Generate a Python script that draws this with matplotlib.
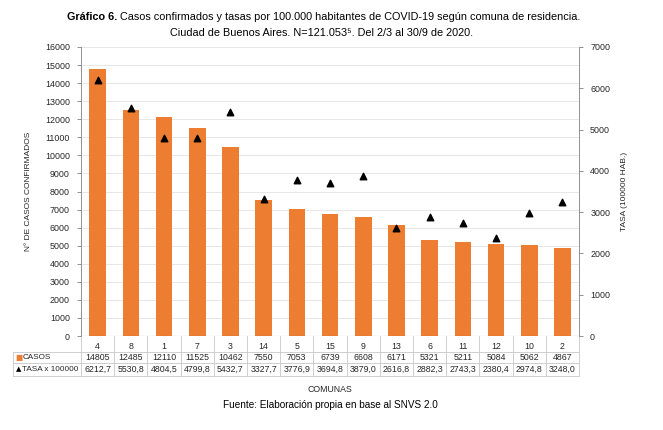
import matplotlib
matplotlib.use('Agg')
import matplotlib.pyplot as plt
from matplotlib.transforms import blended_transform_factory
import numpy as np

plt.rcParams['font.family'] = ['Liberation Sans', 'DejaVu Sans']

comunas = ['4', '8', '1', '7', '3', '14', '5', '15', '9', '13', '6', '11', '12', '10', '2']
casos = [14805, 12485, 12110, 11525, 10462, 7550, 7053, 6739, 6608, 6171, 5321, 5211, 5084, 5062, 4867]
tasa = [6212.7, 5530.8, 4804.5, 4799.8, 5432.7, 3327.7, 3776.9, 3694.8, 3879.0, 2616.8,
        2882.3, 2743.3, 2380.4, 2974.8, 3248.0]

orange = '#ED7D31'
grid_c = '#e3e3e3'
line_c = '#c8c8c8'
txt_c = '#262626'

fig = plt.figure(figsize=(6.63, 4.30), dpi=100)
ax = fig.add_axes([81 / 663, 1 - 336 / 430, 498 / 663, 289 / 430])
ax2 = ax.twinx()

x = np.arange(len(comunas))
ax.bar(x, casos, width=0.5, color=orange, zorder=3)
ax2.scatter(x, tasa, marker='^', s=22, color='black', zorder=4)

ax.set_xlim(-0.5, len(comunas) - 0.5)
ax.set_ylim(0, 16000)
ax.set_yticks(np.arange(0, 16001, 1000))
ax2.set_ylim(0, 7000)
ax2.set_yticks(np.arange(0, 7001, 1000))
ax.yaxis.grid(True, color=grid_c, lw=0.6, zorder=0)
ax.set_axisbelow(True)
ax.set_xticks([])

for a in (ax, ax2):
    a.tick_params(axis='y', labelsize=6.4, colors=txt_c, length=3, width=0.6, color='#808080', pad=5)
    for s in a.spines.values():
        s.set_visible(False)
ax.spines['left'].set_visible(True)
ax.spines['left'].set_color('#808080')
ax.spines['left'].set_linewidth(0.6)
ax2.spines['right'].set_visible(True)
ax2.spines['right'].set_color('#808080')
ax2.spines['right'].set_linewidth(0.6)
ax.axhline(0, color='#808080', lw=0.8, zorder=5)

ax.set_ylabel('N° DE CASOS CONFIRMADOS', fontsize=6, color=txt_c)
ax.yaxis.set_label_coords((32 - 81) / 498, 0.5)
ax2.set_ylabel('TASA (100000 HAB.)', fontsize=6, color=txt_c)
ax2.yaxis.set_label_coords((621 - 81) / 498, 0.5)

# data table under the axis
tr = blended_transform_factory(ax.transData, ax.transAxes)
row_y = [-0.038, -0.074, -0.115]
lines_y = [0.0, -0.054, -0.095, -0.139]
lab_left = (13 - 81) / 498
for xi in np.arange(len(comunas) + 1) - 0.5:
    ax.plot([xi, xi], [0, lines_y[-1]], transform=tr, color=line_c, lw=0.6, clip_on=False)
ax.plot([lab_left, lab_left], [lines_y[1], lines_y[-1]], transform=ax.transAxes,
        color=line_c, lw=0.6, clip_on=False)
for ly in lines_y[1:]:
    ax.plot([lab_left, 1], [ly, ly], transform=ax.transAxes, color=line_c, lw=0.6, clip_on=False)

fs_t = 6.3
for i in range(len(comunas)):
    ax.text(x[i], row_y[0], comunas[i], transform=tr, ha='center', va='center', fontsize=fs_t, color=txt_c)
    ax.text(x[i], row_y[1], str(casos[i]), transform=tr, ha='center', va='center', fontsize=fs_t, color=txt_c)
    ax.text(x[i], row_y[2], f'{tasa[i]:.1f}'.replace('.', ','), transform=tr, ha='center',
            va='center', fontsize=fs_t, color=txt_c)

ax.text(lab_left + 0.005, row_y[1], '■', transform=ax.transAxes, ha='left', va='center',
        fontsize=5.5, color=orange, family='DejaVu Sans')
ax.text(lab_left + 0.019, row_y[1], 'CASOS', transform=ax.transAxes, ha='left', va='center',
        fontsize=5.9, color=txt_c)
ax.text(lab_left + 0.005, row_y[2], '▲', transform=ax.transAxes, ha='left', va='center',
        fontsize=5, color='black', family='DejaVu Sans')
ax.text(lab_left + 0.019, row_y[2], 'TASA x 100000', transform=ax.transAxes, ha='left', va='center',
        fontsize=5.9, color=txt_c)

fig.text(330 / 663, 1 - 389 / 430, 'COMUNAS', ha='center', va='center', fontsize=6.3, color=txt_c)
fig.text(330 / 663, 1 - 405 / 430, 'Fuente: Elaboración propia en base al SNVS 2.0',
         ha='center', va='center', fontsize=7.2, color='black')

# title: bold prefix + normal text on first line
fig.canvas.draw()
r = fig.canvas.get_renderer()
t1a = fig.text(0, 1 - 17 / 430, 'Gráfico 6.', fontsize=7.8, fontweight='bold', va='center')
t1b = fig.text(0, 1 - 17 / 430,
               ' Casos confirmados y tasas por 100.000 habitantes de COVID-19 según comuna de residencia.',
               fontsize=7.8, va='center')
wa = t1a.get_window_extent(r).width
wb = t1b.get_window_extent(r).width
x0 = (663 - wa - wb) / 2 - 8
t1a.set_x(x0 / 663)
t1b.set_x((x0 + wa) / 663)
fig.text(322 / 663, 1 - 33 / 430, 'Ciudad de Buenos Aires. N=121.053⁵. Del 2/3 al 30/9 de 2020.',
         ha='center', va='center', fontsize=7.8)

fig.savefig('out.png', dpi=100)
